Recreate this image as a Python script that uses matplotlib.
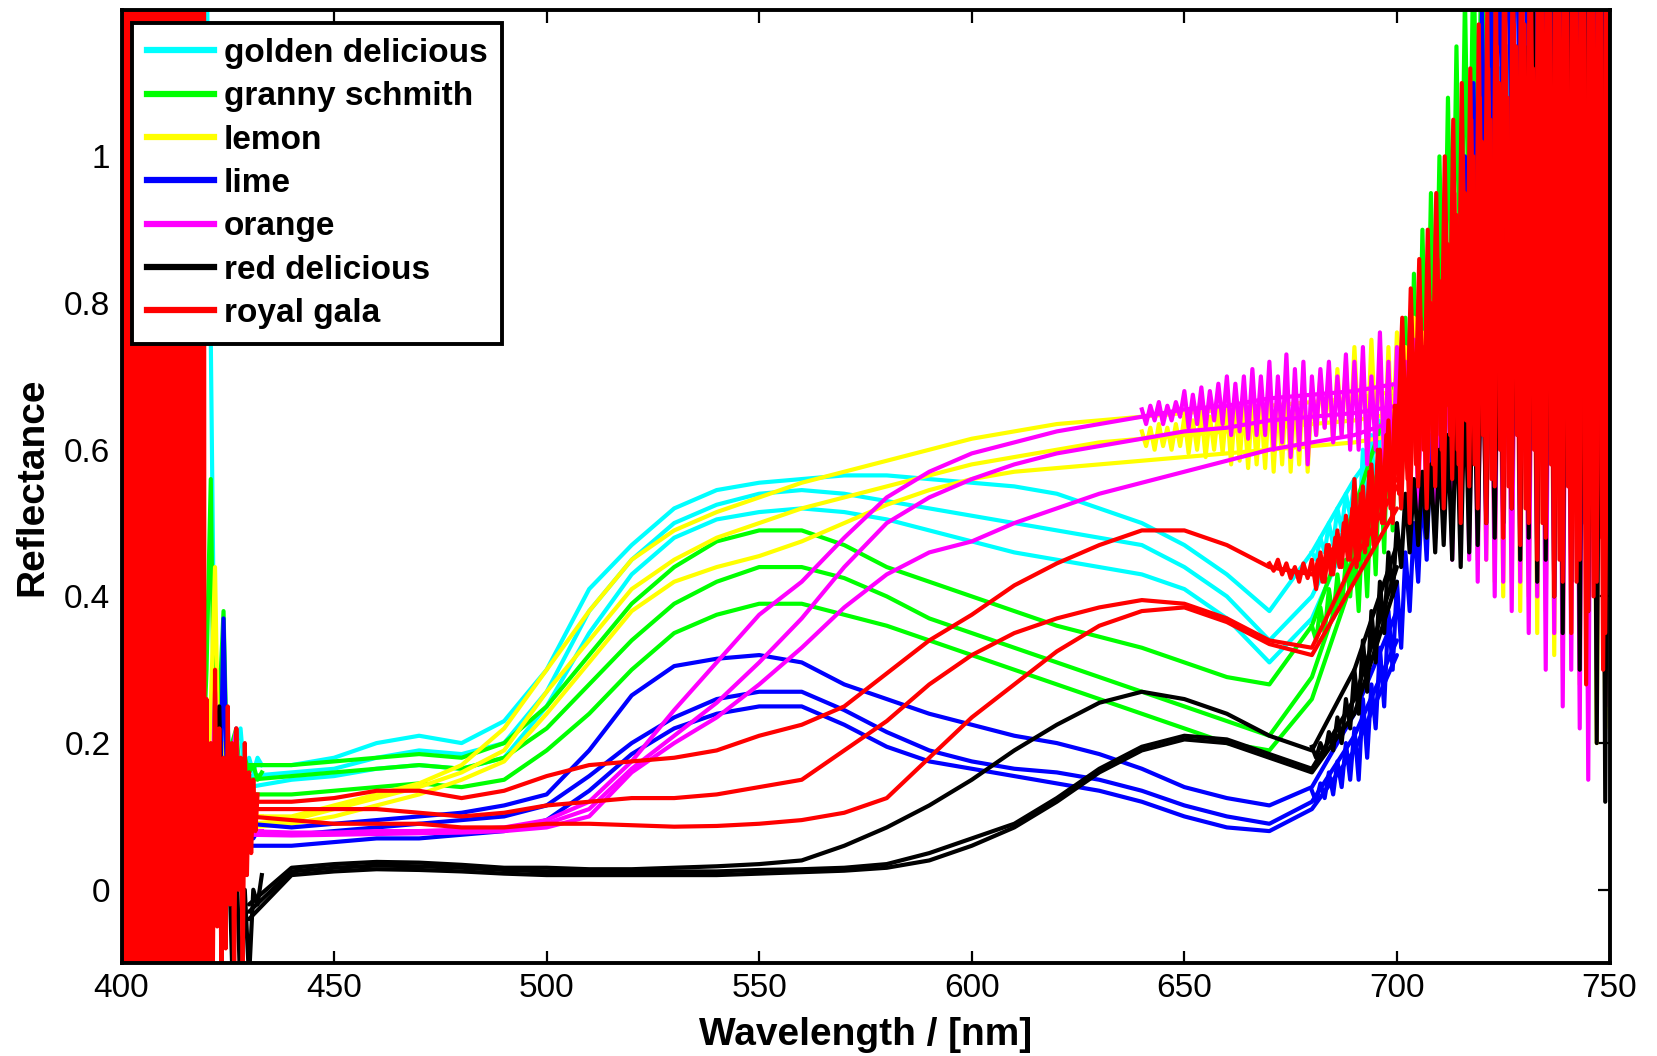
import matplotlib
matplotlib.use("Agg")
import matplotlib.pyplot as plt
from matplotlib.lines import Line2D
import numpy as np

plt.rcParams['font.family'] = ['Liberation Sans', 'DejaVu Sans']

# ---------------- data ----------------
wl = list(range(430, 701, 10))  # 430 ... 700 nm

golden_1 = [0.17, 0.17, 0.18, 0.20, 0.21, 0.20, 0.23, 0.30, 0.41, 0.47, 0.52, 0.545, 0.555, 0.56,
            0.565, 0.565, 0.56, 0.555, 0.55, 0.54, 0.52, 0.50, 0.47, 0.43, 0.38, 0.46, 0.56, 0.64]
golden_2 = [0.155, 0.16, 0.165, 0.18, 0.19, 0.185, 0.20, 0.27, 0.38, 0.45, 0.50, 0.525, 0.54, 0.545,
            0.54, 0.53, 0.52, 0.51, 0.50, 0.49, 0.48, 0.47, 0.44, 0.40, 0.34, 0.40, 0.52, 0.62]
golden_3 = [0.14, 0.15, 0.155, 0.165, 0.17, 0.165, 0.18, 0.25, 0.35, 0.43, 0.48, 0.505, 0.515, 0.52,
            0.515, 0.505, 0.49, 0.475, 0.46, 0.45, 0.44, 0.43, 0.41, 0.37, 0.31, 0.37, 0.50, 0.60]

granny_1 = [0.17, 0.17, 0.175, 0.18, 0.185, 0.18, 0.20, 0.25, 0.32, 0.39, 0.44, 0.475, 0.49, 0.49,
            0.47, 0.44, 0.42, 0.40, 0.38, 0.36, 0.345, 0.33, 0.31, 0.29, 0.28, 0.36, 0.52, 0.70]
granny_2 = [0.15, 0.155, 0.16, 0.165, 0.17, 0.165, 0.18, 0.22, 0.28, 0.34, 0.39, 0.42, 0.44, 0.44,
            0.425, 0.40, 0.37, 0.35, 0.33, 0.31, 0.29, 0.27, 0.25, 0.23, 0.21, 0.29, 0.46, 0.66]
granny_3 = [0.13, 0.13, 0.135, 0.14, 0.145, 0.14, 0.15, 0.19, 0.24, 0.30, 0.35, 0.375, 0.39, 0.39,
            0.375, 0.36, 0.34, 0.32, 0.30, 0.28, 0.26, 0.24, 0.22, 0.20, 0.19, 0.26, 0.43, 0.62]

lemon_1 = [0.10, 0.10, 0.115, 0.13, 0.145, 0.17, 0.22, 0.30, 0.38, 0.45, 0.49, 0.515, 0.535, 0.555,
           0.57, 0.585, 0.60, 0.615, 0.625, 0.635, 0.64, 0.645, 0.65, 0.655, 0.66, 0.665, 0.67, 0.68]
lemon_2 = [0.09, 0.095, 0.11, 0.125, 0.14, 0.16, 0.19, 0.27, 0.34, 0.41, 0.45, 0.48, 0.50, 0.52,
           0.535, 0.55, 0.565, 0.58, 0.59, 0.60, 0.61, 0.615, 0.62, 0.625, 0.63, 0.635, 0.64, 0.65]
lemon_3 = [0.085, 0.09, 0.10, 0.115, 0.13, 0.15, 0.175, 0.24, 0.31, 0.38, 0.42, 0.44, 0.455, 0.475,
           0.50, 0.525, 0.545, 0.56, 0.57, 0.575, 0.58, 0.585, 0.59, 0.595, 0.60, 0.605, 0.61, 0.62]

lime_1 = [0.09, 0.085, 0.09, 0.095, 0.10, 0.105, 0.115, 0.13, 0.19, 0.265, 0.305, 0.315, 0.32, 0.31,
          0.28, 0.26, 0.24, 0.225, 0.21, 0.20, 0.185, 0.165, 0.14, 0.125, 0.115, 0.14, 0.24, 0.38]
lime_2 = [0.075, 0.075, 0.08, 0.085, 0.09, 0.095, 0.10, 0.115, 0.155, 0.20, 0.235, 0.26, 0.27, 0.27,
          0.245, 0.215, 0.19, 0.175, 0.165, 0.16, 0.15, 0.135, 0.115, 0.10, 0.09, 0.12, 0.21, 0.34]
lime_3 = [0.06, 0.06, 0.065, 0.07, 0.07, 0.075, 0.08, 0.095, 0.135, 0.185, 0.22, 0.24, 0.25, 0.25,
          0.225, 0.195, 0.175, 0.165, 0.155, 0.145, 0.135, 0.12, 0.10, 0.085, 0.08, 0.11, 0.19, 0.32]

orange_1 = [0.08, 0.078, 0.078, 0.08, 0.08, 0.082, 0.085, 0.095, 0.12, 0.175, 0.245, 0.31, 0.375, 0.42,
            0.48, 0.535, 0.57, 0.595, 0.61, 0.625, 0.635, 0.645, 0.655, 0.66, 0.67, 0.675, 0.68, 0.69]
orange_2 = [0.078, 0.076, 0.077, 0.078, 0.079, 0.08, 0.083, 0.09, 0.11, 0.165, 0.21, 0.255, 0.31, 0.37,
            0.44, 0.50, 0.535, 0.56, 0.58, 0.595, 0.605, 0.615, 0.625, 0.63, 0.64, 0.645, 0.65, 0.66]
orange_3 = [0.075, 0.074, 0.075, 0.076, 0.077, 0.078, 0.08, 0.085, 0.10, 0.16, 0.20, 0.235, 0.28, 0.33,
            0.385, 0.43, 0.46, 0.475, 0.50, 0.52, 0.54, 0.555, 0.57, 0.585, 0.60, 0.61, 0.62, 0.64]

reddel_1 = [-0.02, 0.03, 0.035, 0.038, 0.037, 0.034, 0.03, 0.03, 0.028, 0.028, 0.03, 0.032, 0.035, 0.04,
            0.06, 0.085, 0.115, 0.15, 0.19, 0.225, 0.255, 0.27, 0.26, 0.24, 0.21, 0.19, 0.30, 0.47]
reddel_2 = [-0.03, 0.025, 0.03, 0.033, 0.032, 0.03, 0.027, 0.025, 0.025, 0.025, 0.025, 0.025, 0.027, 0.028,
            0.03, 0.035, 0.05, 0.07, 0.09, 0.125, 0.165, 0.195, 0.21, 0.205, 0.185, 0.165, 0.26, 0.44]
reddel_3 = [-0.04, 0.02, 0.025, 0.028, 0.027, 0.025, 0.022, 0.02, 0.02, 0.02, 0.02, 0.02, 0.022, 0.024,
            0.026, 0.03, 0.04, 0.06, 0.085, 0.12, 0.16, 0.19, 0.205, 0.20, 0.18, 0.16, 0.24, 0.42]

gala_1 = [0.12, 0.12, 0.125, 0.135, 0.135, 0.125, 0.135, 0.155, 0.17, 0.175, 0.18, 0.19, 0.21, 0.225,
          0.25, 0.295, 0.34, 0.375, 0.415, 0.445, 0.47, 0.49, 0.49, 0.47, 0.44, 0.43, 0.50, 0.56]
gala_2 = [0.11, 0.11, 0.11, 0.11, 0.105, 0.10, 0.105, 0.115, 0.12, 0.125, 0.125, 0.13, 0.14, 0.15,
          0.19, 0.23, 0.28, 0.32, 0.35, 0.37, 0.385, 0.395, 0.39, 0.37, 0.34, 0.33, 0.45, 0.55]
gala_3 = [0.10, 0.095, 0.09, 0.09, 0.09, 0.085, 0.085, 0.09, 0.09, 0.088, 0.086, 0.087, 0.09, 0.095,
          0.105, 0.125, 0.18, 0.235, 0.28, 0.325, 0.36, 0.38, 0.385, 0.365, 0.335, 0.32, 0.42, 0.52]

# noisy red end, 1 nm steps
tail_wl = list(range(680, 751))          # 680 ... 750 nm
tail_wl_mid = list(range(670, 751))      # 670 ... 750 nm
tail_wl_long = list(range(640, 751))     # 640 ... 750 nm
tail_wl_b = list(np.arange(680.5, 751, 1.0))
tail_wl_c = list(np.arange(700.25, 750, 1.0))

golden_tail = [0.46, 0.45, 0.48, 0.46, 0.50, 0.47, 0.52, 0.49, 0.54, 0.51,
               0.56, 0.48, 0.60, 0.50, 0.62, 0.52, 0.64, 0.55, 0.66, 0.56,
               0.70, 0.58, 0.72, 0.60, 0.75, 0.62, 0.78, 0.64, 0.80, 0.66,
               0.85, 0.68, 0.88, 0.70, 0.92, 0.72, 0.95, 0.75, 1.00, 0.78,
               1.05, 0.80, 1.10, 0.82, 1.12, 0.80, 1.15, 0.84, 1.15, 0.82,
               1.18, 0.85, 1.20, 0.83, 1.22, 0.86, 1.20, 0.84, 1.25, 0.85,
               1.22, 0.86, 1.25, 0.84, 1.25, 0.86, 1.25, 0.85, 1.25, 0.86,
               1.25]
granny_tail = [0.36, 0.34, 0.385, 0.35, 0.41, 0.37, 0.43, 0.38, 0.45, 0.40,
               0.47, 0.38, 0.51, 0.40, 0.55, 0.43, 0.60, 0.46, 0.66, 0.49,
               0.72, 0.52, 0.78, 0.56, 0.84, 0.60, 0.90, 0.64, 0.95, 0.68,
               1.00, 0.72, 1.08, 0.76, 1.15, 0.80, 1.22, 0.85, 1.30, 0.90,
               1.35, 0.95, 1.40, 1.00, 1.40, 1.05, 1.45, 1.05, 1.45, 1.10,
               1.45, 1.10, 1.45, 1.12, 1.45, 1.10, 1.45, 1.12, 1.45, 1.10,
               1.45, 1.10, 1.45, 1.12, 1.45, 1.10, 1.45, 1.12, 1.45, 1.10,
               1.45]
lemon_tail = [0.625, 0.605, 0.63, 0.60, 0.635, 0.605, 0.63, 0.60, 0.635, 0.605,
              0.645, 0.595, 0.64, 0.60, 0.65, 0.59, 0.645, 0.60, 0.655, 0.595,
              0.66, 0.58, 0.665, 0.585, 0.66, 0.575, 0.67, 0.58, 0.665, 0.575,
              0.68, 0.57, 0.67, 0.58, 0.69, 0.57, 0.68, 0.58, 0.70, 0.57,
              0.68, 0.62, 0.70, 0.63, 0.69, 0.61, 0.71, 0.62, 0.72, 0.61,
              0.74, 0.62, 0.72, 0.60, 0.75, 0.62, 0.73, 0.58, 0.74, 0.60,
              0.76, 0.58, 0.74, 0.55, 0.78, 0.55, 0.76, 0.52, 0.80, 0.52,
              0.82, 0.50, 0.84, 0.50, 0.86, 0.48, 0.88, 0.48, 0.90, 0.45,
              0.92, 0.45, 0.94, 0.42, 0.95, 0.40, 0.98, 0.42, 1.00, 0.38,
              1.00, 0.40, 1.02, 0.35, 1.05, 0.38, 1.05, 0.32, 1.08, 0.30,
              1.10, 0.35, 1.10, 0.28, 1.12, 0.30, 1.12, 0.20, 1.15, 0.22,
              1.15]
lime_tail = [0.135, 0.12, 0.145, 0.125, 0.16, 0.13, 0.175, 0.14, 0.20, 0.15,
             0.22, 0.15, 0.26, 0.18, 0.28, 0.22, 0.33, 0.25, 0.38, 0.30,
             0.42, 0.33, 0.46, 0.38, 0.50, 0.42, 0.55, 0.45, 0.62, 0.48,
             0.70, 0.52, 0.80, 0.58, 0.90, 0.65, 1.00, 0.72, 1.10, 0.78,
             1.20, 0.85, 1.30, 0.90, 1.35, 0.95, 1.40, 0.98, 1.40, 1.00,
             1.40, 1.02, 1.40, 1.05, 1.40, 1.05, 1.40, 1.08, 1.40, 1.10,
             1.40, 1.10, 1.40, 1.10, 1.40, 1.10, 1.40, 1.10, 1.40, 1.10,
             1.40]
orange_tail = [0.655, 0.635, 0.66, 0.64, 0.665, 0.635, 0.66, 0.64, 0.665, 0.645,
               0.68, 0.63, 0.675, 0.635, 0.685, 0.63, 0.68, 0.64, 0.69, 0.635,
               0.70, 0.62, 0.69, 0.625, 0.70, 0.615, 0.71, 0.62, 0.70, 0.62,
               0.72, 0.60, 0.70, 0.61, 0.73, 0.59, 0.71, 0.60, 0.72, 0.58,
               0.70, 0.62, 0.71, 0.63, 0.72, 0.61, 0.70, 0.62, 0.73, 0.60,
               0.72, 0.60, 0.74, 0.58, 0.70, 0.60, 0.76, 0.58, 0.72, 0.55,
               0.74, 0.56, 0.72, 0.54, 0.75, 0.52, 0.74, 0.50, 0.76, 0.48,
               0.78, 0.50, 0.80, 0.45, 0.82, 0.48, 0.85, 0.45, 0.88, 0.42,
               0.90, 0.45, 0.92, 0.40, 0.95, 0.42, 0.95, 0.38, 0.98, 0.42,
               1.00, 0.35, 1.00, 0.40, 1.05, 0.30, 1.05, 0.35, 1.10, 0.25,
               1.10, 0.30, 1.10, 0.22, 1.15, 0.15, 1.15, 0.30, 1.15, 0.25,
               1.15]
reddel_tail = [0.195, 0.18, 0.20, 0.185, 0.215, 0.19, 0.235, 0.20, 0.26, 0.22,
               0.30, 0.24, 0.34, 0.27, 0.38, 0.31, 0.42, 0.35, 0.46, 0.40,
               0.50, 0.44, 0.54, 0.46, 0.56, 0.47, 0.57, 0.48, 0.58, 0.46,
               0.60, 0.47, 0.62, 0.45, 0.66, 0.44, 0.70, 0.46, 0.75, 0.47,
               0.80, 0.50, 0.85, 0.48, 0.95, 0.50, 1.00, 0.52, 1.10, 0.45,
               1.15, 0.48, 1.20, 0.42, 1.25, 0.45, 1.25, 0.40, 1.30, 0.35,
               1.30, 0.42, 1.30, 0.30, 1.30, 0.38, 1.30, 0.20, 1.30, 0.12,
               1.30]
gala_tail_a = [0.445, 0.435, 0.45, 0.43, 0.445, 0.425, 0.44, 0.42, 0.445, 0.425,
               0.45, 0.41, 0.46, 0.42, 0.47, 0.43, 0.49, 0.44, 0.51, 0.45,
               0.56, 0.45, 0.55, 0.47, 0.58, 0.48, 0.60, 0.50, 0.64, 0.50,
               0.66, 0.52, 0.68, 0.50, 0.72, 0.55, 0.74, 0.52, 0.80, 0.55,
               0.83, 0.52, 0.88, 0.56, 0.92, 0.50, 0.95, 0.55, 1.00, 0.52,
               1.02, 0.50, 1.05, 0.55, 1.10, 0.48, 1.08, 0.52, 1.15, 0.47,
               1.18, 0.50, 1.12, 0.45, 1.25, 0.48, 1.20, 0.40, 1.25, 0.42,
               1.22, 0.35, 1.28, 0.45, 1.25, 0.38, 1.30, 0.42, 1.25, 0.35,
               1.25]
gala_tail_b = [0.43, 0.45, 0.42, 0.47, 0.43, 0.48, 0.44, 0.50, 0.45, 0.52,
               0.44, 0.54, 0.46, 0.57, 0.47, 0.60, 0.50, 0.62, 0.52, 0.66,
               0.54, 0.70, 0.56, 0.74, 0.58, 0.78, 0.60, 0.82, 0.58, 0.86,
               0.60, 0.90, 0.62, 0.95, 0.58, 1.00, 0.64, 1.05, 0.60, 1.08,
               0.66, 1.12, 0.62, 1.15, 0.68, 1.20, 0.60, 1.18, 0.66, 1.22,
               0.58, 1.25, 0.70, 1.20, 0.55, 1.25, 0.62, 1.30, 0.50, 1.25,
               0.60, 1.30, 0.48, 1.28, 0.28, 1.30, 0.55, 1.25, 0.30, 1.30,
               0.45]
gala_tail_c = [0.62, 0.78, 0.60, 0.82, 0.63, 0.86, 0.60, 0.90, 0.64, 0.95,
               0.62, 1.00, 0.66, 1.05, 0.60, 1.10, 0.64, 1.12, 0.58, 1.18,
               0.62, 1.20, 0.56, 1.25, 0.60, 1.28, 0.55, 1.30, 0.62, 1.30,
               0.52, 1.30, 0.60, 1.30, 0.50, 1.30, 0.58, 1.30, 0.45, 1.30,
               0.55, 1.30, 0.42, 1.30, 0.50, 1.30, 0.40, 1.30, 0.48, 1.30]

# noisy blue end (416 ... 433 nm, 1 nm steps)
head_wl = list(range(416, 434))
golden_head = [0.10, 0.05, 0.30, 0.60, 1.30, 0.75, 0.20, 0.30, 0.12, 0.22, 0.14, 0.20, 0.22, 0.15, 0.18, 0.16, 0.18, 0.17]
granny_head = [0.10, 0.05, 0.20, 0.15, 0.30, 0.56, 0.10, 0.25, 0.38, 0.12, 0.20, 0.22, 0.14, 0.18, 0.16, 0.17, 0.15, 0.16]
lemon_head = [0.10, 0.05, 0.15, 0.20, 0.10, 0.25, 0.44, 0.10, 0.20, 0.08, 0.15, 0.12, 0.09, 0.11, 0.10, 0.11, 0.10, 0.10]
lime_head = [0.05, 0.00, 0.10, 0.05, 0.15, 0.10, 0.20, 0.05, 0.37, 0.08, 0.15, 0.05, 0.12, 0.06, 0.09, 0.07, 0.08, 0.08]
orange_head = [0.05, 0.00, 0.10, 0.05, 0.15, 0.05, 0.27, 0.05, 0.15, 0.05, 0.18, 0.22, 0.06, 0.10, 0.07, 0.08, 0.08, 0.08]
reddel_head = [0.00, -0.10, 0.10, -0.05, 0.15, -0.10, 0.10, 0.25, -0.05, 0.10, -0.10, 0.05, -0.15, 0.00, -0.12, 0.00, -0.02, 0.02]

# royal gala saturated start (400 ... 432 nm, 0.5 nm steps; far off scale below 419 nm)
gala_head_wl = list(np.arange(400, 432.01, 0.5))
gala_head = [9.0, -8.0, 9.0, -8.0, 9.0, -8.0, 9.0, -8.0, 9.0, -8.0,
             9.0, -8.0, 9.0, -8.0, 9.0, -8.0, 9.0, -8.0, 9.0, -8.0,
             9.0, -8.0, 9.0, -8.0, 9.0, -8.0, 9.0, -8.0, 9.0, -8.0,
             9.0, -8.0, 9.0, -8.0, 9.0, -8.0, 9.0, -8.0, 9.0, -0.15,
             0.26, -0.12, 0.20, -0.10, 0.30, -0.05, 0.22, -0.12, 0.18, -0.08,
             0.25, -0.02, 0.20, -0.12, 0.22, 0.00, 0.18, -0.12, 0.20, 0.02,
             0.16, 0.05, 0.15, 0.08, 0.13]

labels = ['golden delicious', 'granny schmith', 'lemon', 'lime', 'orange', 'red delicious', 'royal gala']
colors = ['#00FFFF', '#00FF00', '#FFFF00', '#0000FF', '#FF00FF', '#000000', '#FF0000']
x_ticks = [400, 450, 500, 550, 600, 650, 700, 750]
y_ticks = [0, 0.2, 0.4, 0.6, 0.8, 1]
y_ticklabels = ['0', '0.2', '0.4', '0.6', '0.8', '1']

groups = [
    ([golden_1, golden_2, golden_3], [(tail_wl, golden_tail)], golden_head),
    ([granny_1, granny_2, granny_3], [(tail_wl, granny_tail)], granny_head),
    ([lemon_1, lemon_2, lemon_3], [(tail_wl_long, lemon_tail)], lemon_head),
    ([lime_1, lime_2, lime_3], [(tail_wl, lime_tail)], lime_head),
    ([orange_1, orange_2, orange_3], [(tail_wl_long, orange_tail)], orange_head),
    ([reddel_1, reddel_2, reddel_3], [(tail_wl, reddel_tail)], reddel_head),
    ([gala_1, gala_2, gala_3], [(tail_wl_mid, gala_tail_a), (tail_wl_b, gala_tail_b),
                                (tail_wl_c, gala_tail_c)], None),
]

# ---------------- figure ----------------
W, H = 1657, 1056
fig = plt.figure(figsize=(W / 100, H / 100), dpi=100)
ax = fig.add_axes([121.5 / W, (H - 963.1) / H, 1488 / W, 953.4 / H])

LW = 3.0
for (mains, tails, head), col in zip(groups, colors):
    for y in mains:
        ax.plot(wl, y, color=col, lw=LW, solid_joinstyle='round', solid_capstyle='round')
    for twl, t in tails:
        ax.plot(twl, t, color=col, lw=LW, solid_joinstyle='round')
    if head is not None:
        ax.plot(head_wl, head, color=col, lw=LW)
    if col == '#FF0000':
        ax.plot(gala_head_wl, gala_head, color=col, lw=LW)

ax.set_xlim(400, 750)
ax.set_ylim(-0.1, 1.2)
ax.set_xticks(x_ticks)
ax.set_yticks(y_ticks)
ax.set_yticklabels(y_ticklabels)
ax.tick_params(direction='in', length=9, width=1.6, top=True, right=True,
               labelsize=24, colors='black')
ax.tick_params(axis='x', pad=7)
ax.tick_params(axis='y', pad=8)
for s in ax.spines.values():
    s.set_linewidth(2.8)
    s.set_zorder(5)

ax.set_xlabel('Wavelength / [nm]', fontsize=28, fontweight='bold')
ax.set_ylabel('Reflectance', fontsize=28, fontweight='bold')
ax.xaxis.set_label_coords(0.5, -0.057)
ax.yaxis.set_label_coords(-0.048, 0.5)

handles = [Line2D([0], [0], color=c, lw=4.5) for c in colors]
leg = ax.legend(handles, labels, loc='upper left', bbox_to_anchor=(0.007, 0.986),
                borderaxespad=0, fancybox=False, framealpha=1, edgecolor='black',
                prop={'size': 24, 'weight': 'bold'}, handlelength=2.0,
                handletextpad=0.3, labelspacing=0.37, borderpad=0.45)
leg.get_frame().set_linewidth(2.8)
leg.set_zorder(10)

fig.savefig('out.png', dpi=100)
